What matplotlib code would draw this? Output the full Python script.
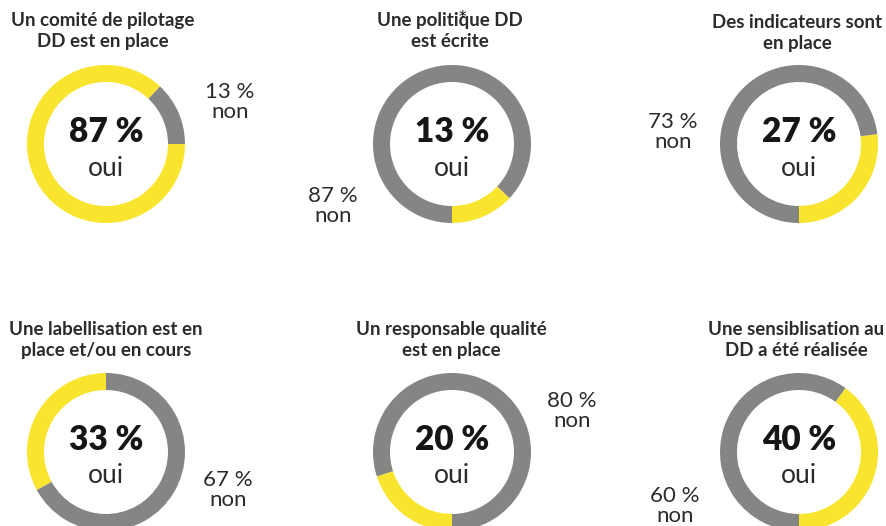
import matplotlib
matplotlib.use("Agg")
import matplotlib.pyplot as plt

# ---------------- data ----------------
titles = [
    "Un comité de pilotage\nDD est en place",
    "Une politique DD\nest écrite",
    "Des indicateurs sont\nen place",
    "Une labellisation est en\nplace et/ou en cours",
    "Un responsable qualité\nest en place",
    "Une sensiblisation au\nDD a été réalisée",
]
oui = [87, 13, 27, 33, 20, 40]
non = [13, 87, 73, 67, 80, 60]
label_oui = "oui"
label_non = "non"

# ---------------- layout / style ----------------
W, H = 887, 526
YELLOW = "#F9E52E"
GRAY = "#858583"
DARK = "#2b2b2b"

centers = [(106, 144), (452, 144), (799, 144), (106, 452), (452, 452), (799, 452)]
R, RING = 79, 17
anchor = [90, 180, 180, 360, 180, 180]          # clockwise from 12 o'clock
yellow_ends = [False, True, True, True, False, True]
title_xy = [(103, 31), (450, 31), (797, 33), (106, 340), (451, 340), (796, 340)]
non_xy = [(230, 102), (333, 206), (673, 132), (228, 490), (572, 411), (675, 506)]

FONT = "Lato"

fig = plt.figure(figsize=(W / 100, H / 100), dpi=100)
ax = fig.add_axes([0, 0, 1, 1])

for i in range(6):
    cx, cy = centers[i]
    theta = anchor[i] - oui[i] * 3.6 if yellow_ends[i] else anchor[i]
    ax.pie([oui[i], non[i]], colors=[YELLOW, GRAY], center=(cx, H - cy), radius=R,
           startangle=90 - theta, counterclock=False,
           wedgeprops=dict(width=RING, linewidth=0))
    tx, ty = title_xy[i]
    ax.text(tx, H - ty, titles[i], ha="center", va="center", fontsize=13.5,
            fontweight="bold", color=DARK, family=FONT, linespacing=1.25)
    ax.text(cx, H - (cy - 12), f"{oui[i]} %", ha="center", va="center", fontsize=24,
            fontweight="heavy", color="#161616", family=FONT)
    ax.text(cx, H - (cy + 24), label_oui, ha="center", va="center", fontsize=19,
            color=DARK, family=FONT)
    nx, ny = non_xy[i]
    ax.text(nx, H - ny, f"{non[i]} %\n{label_non}", ha="center", va="center", fontsize=16,
            color=DARK, family=FONT, linespacing=1.05)

ax.text(462, H - 17, "*", ha="center", va="center", fontsize=11, color="black")

ax.set_xlim(0, W)
ax.set_ylim(0, H)
ax.set_aspect("equal")
ax.axis("off")
fig.savefig("out.png", dpi=100, facecolor="white")
